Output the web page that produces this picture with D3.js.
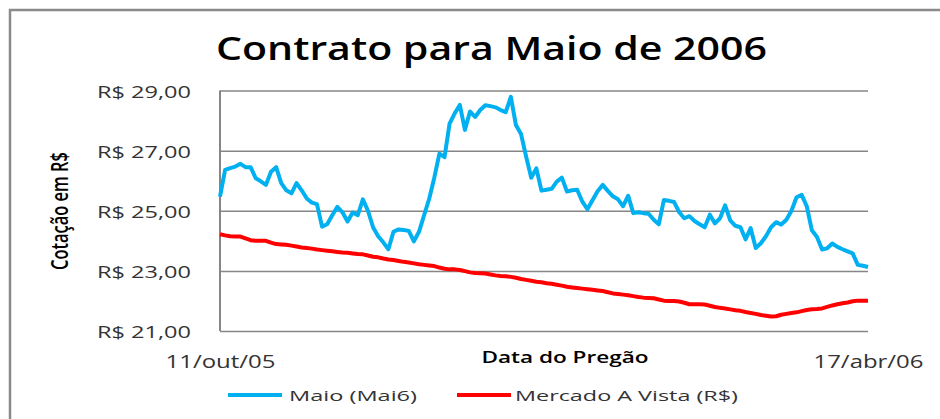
<!DOCTYPE html>
<html>
<head>
<meta charset="utf-8">
<script src="https://cdn.jsdelivr.net/npm/d3@7"></script>
<style>
  body { margin: 0; background: #fff; }
  svg { display: block; }
  text { font-family: "Open Sans", sans-serif; }
</style>
</head>
<body>
<div id="grafico"></div>
<script>
// cotações diárias (um valor por pregão)
var maio = [25.47, 26.36, 26.42, 26.47, 26.56, 26.45, 26.45, 26.08, 25.98, 25.86,
  26.30, 26.45, 25.92, 25.68, 25.58, 25.92, 25.68, 25.41, 25.27, 25.22,
  24.47, 24.55, 24.85, 25.13, 24.95, 24.64, 24.94, 24.85, 25.38, 25.00,
  24.45, 24.15, 23.95, 23.72, 24.30, 24.38, 24.36, 24.33, 23.98, 24.30,
  24.85, 25.40, 26.10, 26.90, 26.78, 27.90, 28.24, 28.52, 27.69, 28.30,
  28.12, 28.35, 28.51, 28.48, 28.44, 28.35, 28.28, 28.79, 27.85, 27.55,
  26.80, 26.10, 26.41, 25.67, 25.70, 25.73, 25.97, 26.10, 25.64, 25.68,
  25.70, 25.31, 25.05, 25.35, 25.65, 25.86, 25.66, 25.48, 25.38, 25.15,
  25.50, 24.92, 24.95, 24.92, 24.90, 24.70, 24.55, 25.36, 25.33, 25.29,
  24.95, 24.75, 24.82, 24.66, 24.55, 24.45, 24.87, 24.58, 24.75, 25.18,
  24.68, 24.50, 24.45, 24.05, 24.42, 23.76, 23.92, 24.15, 24.45, 24.62,
  24.54, 24.70, 25.00, 25.45, 25.53, 25.15, 24.35, 24.13, 23.71, 23.75,
  23.91, 23.80, 23.72, 23.65, 23.58, 23.20, 23.17, 23.13];

var vista = [24.22, 24.18, 24.15, 24.14, 24.14, 24.08, 24.02, 24.00, 24.00, 24.00,
  23.94, 23.89, 23.88, 23.87, 23.84, 23.81, 23.78, 23.76, 23.74, 23.71,
  23.69, 23.67, 23.65, 23.63, 23.61, 23.60, 23.58, 23.56, 23.55, 23.51,
  23.47, 23.45, 23.41, 23.38, 23.36, 23.33, 23.30, 23.28, 23.25, 23.22,
  23.20, 23.18, 23.16, 23.11, 23.07, 23.05, 23.05, 23.03, 22.99, 22.95,
  22.93, 22.92, 22.91, 22.88, 22.85, 22.83, 22.82, 22.80, 22.77, 22.73,
  22.70, 22.67, 22.64, 22.62, 22.59, 22.57, 22.54, 22.51, 22.47, 22.45,
  22.43, 22.41, 22.39, 22.37, 22.35, 22.33, 22.29, 22.25, 22.23, 22.21,
  22.19, 22.16, 22.13, 22.11, 22.10, 22.09, 22.05, 22.01, 22.00, 22.00,
  21.98, 21.94, 21.89, 21.89, 21.89, 21.88, 21.84, 21.80, 21.77, 21.75,
  21.72, 21.69, 21.67, 21.63, 21.60, 21.57, 21.53, 21.51, 21.48, 21.49,
  21.54, 21.57, 21.60, 21.62, 21.66, 21.70, 21.72, 21.73, 21.75, 21.80,
  21.85, 21.89, 21.92, 21.95, 21.99, 22.01, 22.01, 22.01];

var nomesSeries = ["Maio (Mai6)", "Mercado A Vista (R$)"];
var coresSeries = ["#00b0f0", "#ff0000"];
var rotulosX = ["11/out/05", "17/abr/06"];
var ticksY = [21, 23, 25, 27, 29];

var w = 940,
  h = 419;
var margem = { top: 90.5, right: 72, bottom: 88, left: 220 };
var larg = w - margem.left - margem.right,
  alt = h - margem.top - margem.bottom;

var svg = d3.select("#grafico")
  .append("svg")
  .attr("width", w)
  .attr("height", h);

// moldura do gráfico (só aparecem as bordas de cima e da esquerda)
svg.append("rect")
  .attr("x", 10)
  .attr("y", 10)
  .attr("width", 1200)
  .attr("height", 1200)
  .attr("fill", "none")
  .attr("stroke", "#8a8a8a")
  .attr("stroke-width", 2.5);

svg.append("text")
  .attr("x", 216)
  .attr("y", 60)
  .attr("font-size", 32)
  .attr("font-weight", 600)
  .attr("fill", "#000")
  .attr("textLength", 551)
  .attr("lengthAdjust", "spacingAndGlyphs")
  .text("Contrato para Maio de 2006");

var g = svg.append("g")
  .attr("transform", "translate(" + margem.left + "," + margem.top + ")");

var x = d3.scaleLinear()
  .domain([0, maio.length - 1])
  .range([0, larg]);

var y = d3.scaleLinear()
  .domain([21, 29])
  .range([alt, 0]);

var br = d3.formatLocale({ decimal: ",", thousands: ".", grouping: [3], currency: ["R$ ", ""] });
var fmtReal = br.format("$.2f");

// grade + rótulos do eixo y
var eixoY = g.append("g")
  .call(d3.axisLeft(y)
    .tickValues(ticksY)
    .tickSize(-larg)
    .tickPadding(29)
    .tickFormat(fmtReal));

eixoY.select(".domain").remove();
eixoY.selectAll(".tick line")
  .attr("stroke", "#868686")
  .attr("stroke-width", 1.5);
eixoY.selectAll(".tick text")
  .attr("font-family", "Open Sans, sans-serif")
  .attr("font-size", 17)
  .attr("fill", "#333")
  .attr("dy", "0.41em")
  .attr("textLength", 94)
  .attr("lengthAdjust", "spacingAndGlyphs");

g.append("line")
  .attr("x1", 0).attr("x2", 0)
  .attr("y1", 0).attr("y2", alt)
  .attr("stroke", "#868686")
  .attr("stroke-width", 2);

// rótulos do eixo x: primeiro e último pregão
var eixoX = g.append("g")
  .attr("transform", "translate(0," + alt + ")")
  .call(d3.axisBottom(x)
    .tickValues([0, maio.length - 1])
    .tickSize(0)
    .tickPadding(24)
    .tickFormat(function(d, i) { return rotulosX[i]; }));

eixoX.select(".domain").remove();
eixoX.selectAll(".tick text")
  .attr("font-family", "Open Sans, sans-serif")
  .attr("font-size", 18)
  .attr("fill", "#333")
  .attr("dy", "0.71em")
  .attr("textLength", 110)
  .attr("lengthAdjust", "spacingAndGlyphs");

var linha = d3.line()
  .x(function(d, i) { return x(i); })
  .y(function(d) { return y(d); });

g.selectAll("path.serie")
  .data([maio, vista])
  .enter()
  .append("path")
  .attr("class", "serie")
  .attr("d", linha)
  .attr("fill", "none")
  .attr("stroke", function(d, i) { return coresSeries[i]; })
  .attr("stroke-width", 4)
  .attr("stroke-linejoin", "round");

// títulos dos eixos
svg.append("text")
  .attr("x", 565)
  .attr("y", 363)
  .attr("text-anchor", "middle")
  .attr("font-size", 16)
  .attr("font-weight", 600)
  .attr("fill", "#000")
  .attr("textLength", 167)
  .attr("lengthAdjust", "spacingAndGlyphs")
  .text("Data do Pregão");

svg.append("text")
  .attr("transform", "translate(68,211) scale(1.35,1) rotate(-90)")
  .attr("text-anchor", "middle")
  .attr("font-size", 17)
  .attr("font-weight", 600)
  .attr("fill", "#000")
  .attr("textLength", 118)
  .attr("lengthAdjust", "spacingAndGlyphs")
  .text("Cotação em R$");

// legenda
var legX = [228, 457],
  legTxtLen = [128, 223];

var leg = svg.selectAll("g.leg")
  .data(nomesSeries)
  .enter()
  .append("g")
  .attr("class", "leg")
  .attr("transform", function(d, i) { return "translate(" + legX[i] + ",395)"; });

leg.append("line")
  .attr("x1", 0).attr("x2", 54)
  .attr("stroke", function(d, i) { return coresSeries[i]; })
  .attr("stroke-width", 4);

leg.append("text")
  .attr("x", function(d, i) { return i == 0 ? 61 : 58; })
  .attr("y", 5.5)
  .attr("font-size", 15)
  .attr("fill", "#333")
  .attr("textLength", function(d, i) { return legTxtLen[i]; })
  .attr("lengthAdjust", "spacingAndGlyphs")
  .text(function(d) { return d; });
</script>
</body>
</html>
